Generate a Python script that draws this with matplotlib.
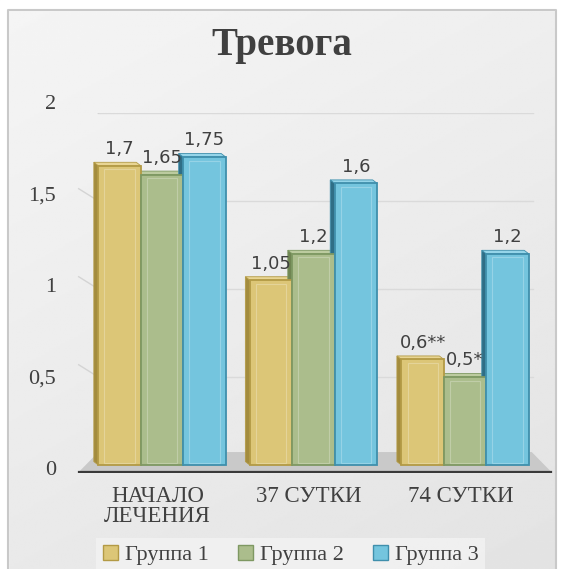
import numpy as np
import matplotlib
matplotlib.use("Agg")
import matplotlib.pyplot as plt
from matplotlib.patches import Polygon, Rectangle, Patch

# данные
categories = ["НАЧАЛО\nЛЕЧЕНИЯ", "37 СУТКИ", "74 СУТКИ"]
groups = ["Группа 1", "Группа 2", "Группа 3"]
g1 = [1.7, 1.05, 0.6]
g2 = [1.65, 1.2, 0.5]
g3 = [1.75, 1.6, 1.2]
labels1 = ["1,7", "1,05", "0,6**"]
labels2 = ["1,65", "1,2", "0,5*"]
labels3 = ["1,75", "1,6", "1,2"]
yticks = [0, 0.5, 1, 1.5, 2]
ytick_labels = ["0", "0,5", "1", "1,5", "2"]

# стиль
front = ["#dcc677", "#abbd8c", "#74c5de"]
edges = ["#b39a45", "#7e9862", "#3f8fac"]
sides = ["#a38c3e", "#6f8552", "#2f6e86"]
tops = ["#e8d593", "#bccb9f", "#95d5e9"]
TXT = "#404040"

fig = plt.figure(figsize=(5.63, 5.69), dpi=100)

# фон с градиентом и рамкой
bg = fig.add_axes([0, 0, 1, 1], zorder=-10)
grad = np.linspace(0, 1, 256)
gx, gy = np.meshgrid(grad, grad)
img = 0.96 - 0.07 * (0.35 * gx + 0.65 * gy)
bg.imshow(img, cmap="gray", vmin=0, vmax=1, extent=[0, 1, 0, 1], aspect="auto", origin="upper")
bg.add_patch(Rectangle((0, 1 - 10 / 569), 1, 10 / 569, color="white", transform=bg.transAxes, zorder=2))
bg.add_patch(Rectangle((0, 0), 8 / 563, 1, color="white", transform=bg.transAxes, zorder=2))
bg.add_patch(Rectangle((1 - 7 / 563, 0), 7 / 563, 1, color="white", transform=bg.transAxes, zorder=2))
bg.plot([8 / 563, 8 / 563, 1 - 7 / 563, 1 - 7 / 563], [0, 1 - 10 / 569, 1 - 10 / 569, 0],
        color="#c9c9c9", lw=1.5, zorder=3)
bg.set_xlim(0, 1)
bg.set_ylim(0, 1)
bg.axis("off")

ax = fig.add_axes([0.1263, 0.1687, 0.8667, 0.6327])
ax.set_facecolor("none")
ax.set_xlim(-0.6, 2.62)
ax.set_ylim(-0.045, 2.0)
for s in ax.spines.values():
    s.set_visible(False)
ax.set_xticks([])
ax.set_yticks([])

x = np.arange(len(categories))
w = 0.28
n = len(categories)

# пол
ax.add_patch(Polygon([(-0.55, -0.04), (n - 1 + 0.57, -0.04), (n - 1 + 0.44, 0.074), (-0.42, 0.074)],
                     closed=True, facecolor="#c9c9c9", edgecolor="none", zorder=1))
ax.plot([-0.55, n - 1 + 0.57], [-0.04, -0.04], color="#3a3a3a", lw=1.6, zorder=1.5)

# сетка
for v, lab in zip(yticks, ytick_labels):
    if v > 0:
        ax.plot([-0.42, n - 1 + 0.45], [v, v], color="#dadada", lw=1.0, zorder=0.5)
        ax.plot([-0.55, -0.42], [v + 0.07, v], color="#d4d4d4", lw=1.0, zorder=0.5)
    ax.text(-0.7, v * 1.037 - 0.028, lab, ha="right", va="center", fontsize=16,
            family="Liberation Serif", color=TXT, clip_on=False)

# столбцы с псевдо-3D
dx, dy = 0.03, 0.02
series = [g1, g2, g3]
labs = [labels1, labels2, labels3]
for i, (vals, ll) in enumerate(zip(series, labs)):
    xs = x + (i - 1) * w
    for xc, h, t in zip(xs, vals, ll):
        x0, x1 = xc - w / 2, xc + w / 2
        ax.add_patch(Polygon([(x0, 0), (x0, h), (x0 - dx, h + dy), (x0 - dx, dy)],
                             facecolor=sides[i], edgecolor=edges[i], lw=0.6, zorder=2))
        ax.add_patch(Polygon([(x0, h), (x1, h), (x1 - dx, h + dy), (x0 - dx, h + dy)],
                             facecolor=tops[i], edgecolor=edges[i], lw=0.6, zorder=2))
        ax.annotate(t, xy=(xc, h + dy), xytext=(0, 3), textcoords="offset points",
                    ha="center", va="bottom", fontsize=13, color=TXT, family="DejaVu Sans")
    ax.bar(xs, vals, width=w, color=front[i], edgecolor=edges[i], linewidth=1.3, zorder=3)
    # внутренний блик
    for xc, h in zip(xs, vals):
        ax.add_patch(Rectangle((xc - w / 2 + 0.04, 0.01), w - 0.08, h - 0.03, fill=False,
                               edgecolor="white", alpha=0.25, lw=0.8, zorder=3.5))

# подписи категорий
for xc, c in zip(x, categories):
    ax.text(xc - 0.03, -0.12, c, ha="center", va="top", fontsize=16.5, color=TXT,
            family="Liberation Serif", linespacing=0.95, clip_on=False)

fig.text(0.5, 1 - 45 / 569, "Тревога", ha="center", va="center", fontsize=28,
         fontweight="bold", family="Liberation Serif", color=TXT)

handles = [Patch(facecolor=front[i], edgecolor=edges[i], label=g) for i, g in enumerate(groups)]
leg = fig.legend(handles=handles, loc="center", bbox_to_anchor=(0.516, 1 - 555 / 569), ncol=3,
                 frameon=True, fancybox=False, prop={"family": "Liberation Serif", "size": 16},
                 handlelength=0.7, handleheight=0.7, handletextpad=0.3, columnspacing=1.3,
                 borderpad=0.3, borderaxespad=0)
leg.get_frame().set_facecolor("#f3f3f3")
leg.get_frame().set_edgecolor("none")
for t in leg.get_texts():
    t.set_color(TXT)

plt.savefig("out.png", dpi=100)
